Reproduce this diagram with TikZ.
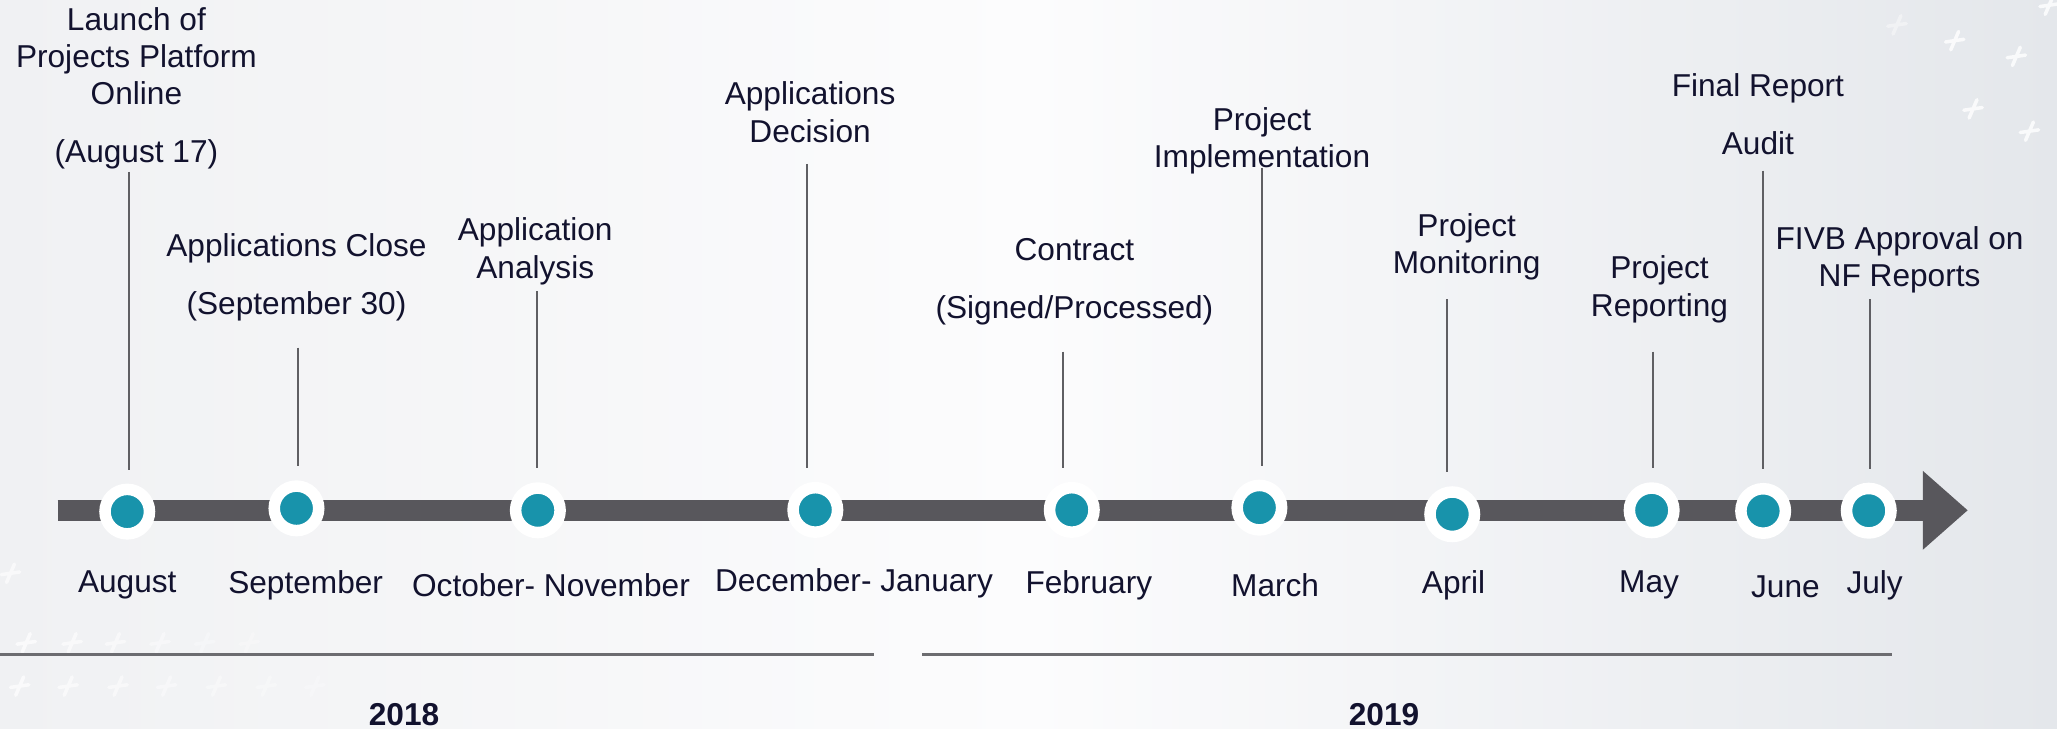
\documentclass[tikz,border=0pt]{standalone}
\usepackage{fontspec}
\setmainfont{Liberation Sans}
\usetikzlibrary{arrows.meta}

\definecolor{bardark}{HTML}{58575C}
\definecolor{dotteal}{HTML}{1893AB}
\definecolor{tickgray}{HTML}{5F5F63}
\definecolor{rulegray}{HTML}{6C6C70}
\definecolor{navytext}{HTML}{12122E}
\definecolor{bgleft}{HTML}{F0F1F3}
\definecolor{bgmid}{HTML}{FCFCFD}
\definecolor{bgright}{HTML}{E4E7EB}

\begin{document}
\begin{tikzpicture}[x=0.1312mm, y=-0.1312mm, inner sep=0pt,
    font=\fontsize{9}{10.6}\selectfont, text=navytext]
    \tikzstyle{dot}=[circle, fill=dotteal, draw=white, line width=1.15mm, minimum size=4.45mm]
    \tikzstyle{lbl}=[align=center]
    \tikzstyle{tick}=[draw=tickgray, line width=0.2mm, shorten >=1.4mm]
    \tikzstyle{bar}=[draw=bardark, line width=2.1mm, -{Triangle[length=4.5mm,width=7.6mm]}]
    \tikzstyle{rule}=[draw=rulegray, line width=0.25mm]
    \tikzstyle{year}=[font=\fontsize{9}{10.6}\selectfont\bfseries]
    \tikzstyle{cross}=[draw=white, line width=0.35mm, line cap=round]

    \useasboundingbox (0,0) rectangle (1568,555);
    \shade[left color=bgleft, right color=bgright, middle color=bgmid] (0,0) rectangle (1568,555);

    % faint crosses in the background
    \foreach \x/\y/\o in {1446/19/0.4, 1490/31/0.8, 1537/43/0.8, 1504/83/0.8, 1547/100/0.8, 1562/4/0.8,
        8/437/0.6, 20/490/0.7, 55/490/0.6, 88/490/0.5, 122/490/0.4, 156/490/0.3, 190/490/0.25,
        15/523/0.7, 52/523/0.6, 90/523/0.5, 127/523/0.4, 165/523/0.35, 203/523/0.3, 240/523/0.25}
        \draw[cross, opacity=\o] (\x,\y) ++(-7,1) -- ++(14,-2) (\x,\y) ++(3,-7) -- ++(-6,14);

    % timeline
    \coordinate (start) at (44,389);
    \coordinate (tip) at (1500,389);
    \draw[bar] (start) -- (tip);

    \draw[rule] (0,499) -- (666,499);
    \draw[rule] (703,499) -- (1442,499);

    % dots
    \node[dot] (aug) at (97,390) {};
    \node[dot] (sep) at (226,387.5) {};
    \node[dot] (octnov) at (410,389) {};
    \node[dot] (decjan) at (621.5,388.7) {};
    \node[dot] (feb) at (817,388.7) {};
    \node[dot] (mar) at (960,387) {};
    \node[dot] (apr) at (1107,392) {};
    \node[dot] (may) at (1259,389) {};
    \node[dot] (jun) at (1344,389.5) {};
    \node[dot] (jul) at (1424.5,389.3) {};

    % events above the line
    \node[lbl] (launch) at (104,67.3) {Launch of\\Projects Platform\\Online\\[2.1mm](August 17)};
    \node[lbl] (close) at (226,211.5) {Applications Close\\[2.1mm](September 30)};
    \node[lbl] (analysis) at (408,191.5) {Application\\Analysis};
    \node[lbl] (decision) at (617.5,85.5) {Applications\\Decision};
    \node[lbl] (contract) at (819,214.5) {Contract\\[2.1mm](Signed/Processed)};
    \node[lbl] (implement) at (962,107.5) {Project\\Implementation};
    \node[lbl] (monitor) at (1118,188) {Project\\Monitoring};
    \node[lbl] (report) at (1265,220.5) {Project\\Reporting};
    \node[lbl] (audit) at (1340,87) {Final Report\\[2.1mm]Audit};
    \node[lbl] (approval) at (1448,198) {FIVB Approval on\\NF Reports};

    % ticks
    \coordinate (c1) at (98.6,131);
    \coordinate (c2) at (227,265);
    \coordinate (c3) at (409,222);
    \coordinate (c4) at (614.8,125);
    \coordinate (c5) at (810.5,268);
    \coordinate (c6) at (962,128);
    \coordinate (c7) at (1103,228);
    \coordinate (c8) at (1260,268);
    \coordinate (c9) at (1344,130);
    \coordinate (c10) at (1425.8,228);

    \draw[tick] (c1) to (c1 |- aug.north);
    \draw[tick] (c2) to (c2 |- sep.north);
    \draw[tick] (c3) to (c3 |- octnov.north);
    \draw[tick] (c4) to (c4 |- decjan.north);
    \draw[tick] (c5) to (c5 |- feb.north);
    \draw[tick] (c6) to (c6 |- mar.north);
    \draw[tick] (c7) to (c7 |- apr.north);
    \draw[tick] (c8) to (c8 |- may.north);
    \draw[tick] (c9) to (c9 |- jun.north);
    \draw[tick] (c10) to (c10 |- jul.north);

    % months below the line
    \node[lbl] (maug) at (97,446) {August};
    \node[lbl] (msep) at (233,446) {September};
    \node[lbl] (moct) at (420,446) {October- November};
    \node[lbl] (mdec) at (651,445) {December- January};
    \node[lbl] (mfeb) at (830,446) {February};
    \node[lbl] (mmar) at (972,446) {March};
    \node[lbl] (mapr) at (1108,446) {April};
    \node[lbl] (mmay) at (1257,446) {May};
    \node[lbl] (mjun) at (1361,447) {June};
    \node[lbl] (mjul) at (1429,446) {July};

    % years
    \node[year] (y2018) at (308,545) {2018};
    \node[year] (y2019) at (1055,545) {2019};
\end{tikzpicture}
\end{document}
